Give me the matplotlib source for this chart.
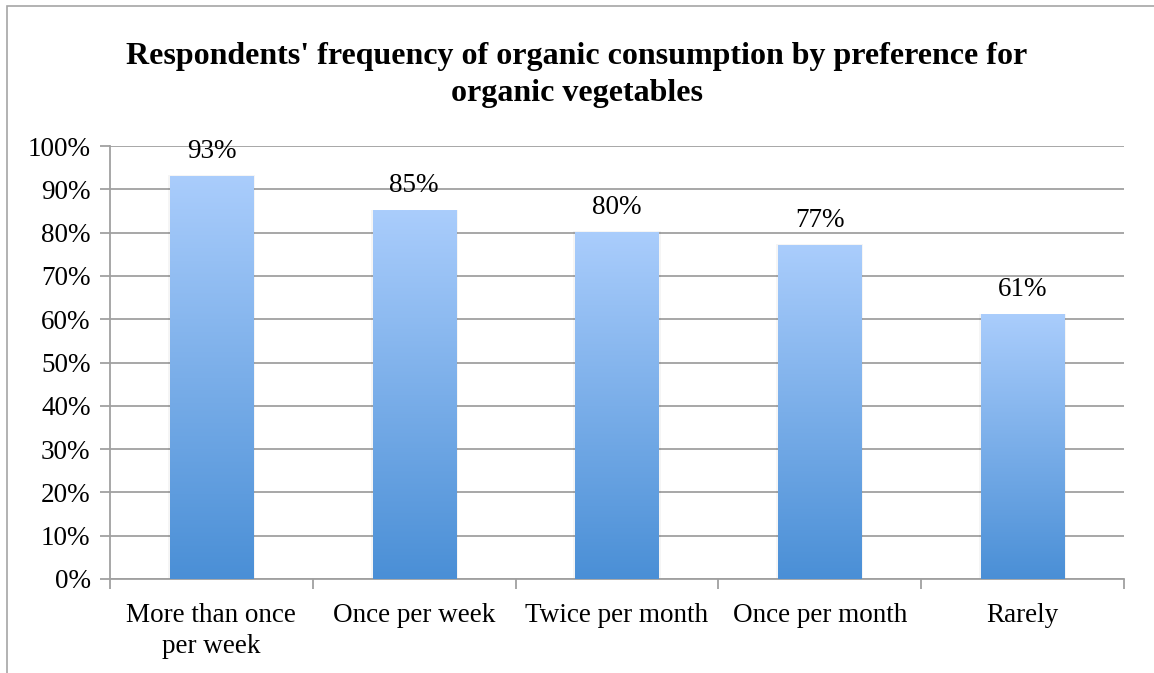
import numpy as np
import matplotlib
matplotlib.use("Agg")
import matplotlib.pyplot as plt
from matplotlib.colors import LinearSegmentedColormap
from matplotlib.patches import Rectangle

categories = ["More than once\nper week", "Once per week", "Twice per month",
              "Once per month", "Rarely"]
values = [93, 85, 80, 77, 61]
yticks = list(range(0, 101, 10))

plt.rcParams["font.family"] = ["Liberation Serif", "DejaVu Serif"]
fig = plt.figure(figsize=(11.54, 6.73), dpi=100)
ax = fig.add_axes([110/1154, 1-579/673, 1014/1154, 433/673])

# outer chart frame (top and left visible)
fig.patches.append(Rectangle((7/1154, -0.1), 1.2, 1-6/673+0.1, transform=fig.transFigure,
                             fill=False, edgecolor="#a6a6a6", lw=1.2))

x = np.arange(len(values))
bars = ax.bar(x, values, width=0.41, color="none", zorder=3)
cmap = LinearSegmentedColormap.from_list("g", ["#4a8fd6", "#aacdfc"])
grad = np.linspace(0, 1, 256).reshape(-1, 1)
for b in bars:
    x0, w, h = b.get_x(), b.get_width(), b.get_height()
    # faint shadow
    ax.add_patch(Rectangle((x0 - 0.01, 0), w + 0.02, h + 0.3, color="#000000",
                           alpha=0.04, lw=0, zorder=2))
    ax.imshow(grad, cmap=cmap, origin="lower", aspect="auto",
              extent=[x0, x0 + w, 0, h], zorder=3)
for xi, v in zip(x, values):
    ax.annotate(f"{v}%", (xi, v), xytext=(0, 18), textcoords="offset points",
                ha="center", va="center", fontsize=19.5)

ax.set_xlim(-0.5, len(values) - 0.5)
ax.set_ylim(0, 100)
ax.set_yticks(yticks)
ax.set_yticklabels([f"{t}%" for t in yticks], fontsize=19.5)
ax.set_xticks(x)
ax.set_xticklabels(categories, fontsize=19.5, va="top", linespacing=1.35)
ax.set_xticks(np.arange(len(values) + 1) - 0.5, minor=True)
ax.tick_params(axis="x", which="major", length=0, pad=17)
ax.tick_params(axis="x", which="minor", length=7, color="#a0a0a0", width=1.3)
ax.tick_params(axis="y", length=7, color="#a0a0a0", width=1.3, pad=7)
ax.grid(axis="y", color="#a0a0a0", lw=1.3, zorder=0)
ax.set_axisbelow(True)
for s in ["top", "right"]:
    ax.spines[s].set_visible(False)
for s in ["left", "bottom"]:
    ax.spines[s].set_color("#a0a0a0")
    ax.spines[s].set_linewidth(1.3)

fig.text(0.5, 1-75/673, "Respondents' frequency of organic consumption by preference for\norganic vegetables",
         ha="center", va="center", fontsize=23, fontweight="bold", linespacing=1.35)

fig.savefig("out.png", dpi=100)
